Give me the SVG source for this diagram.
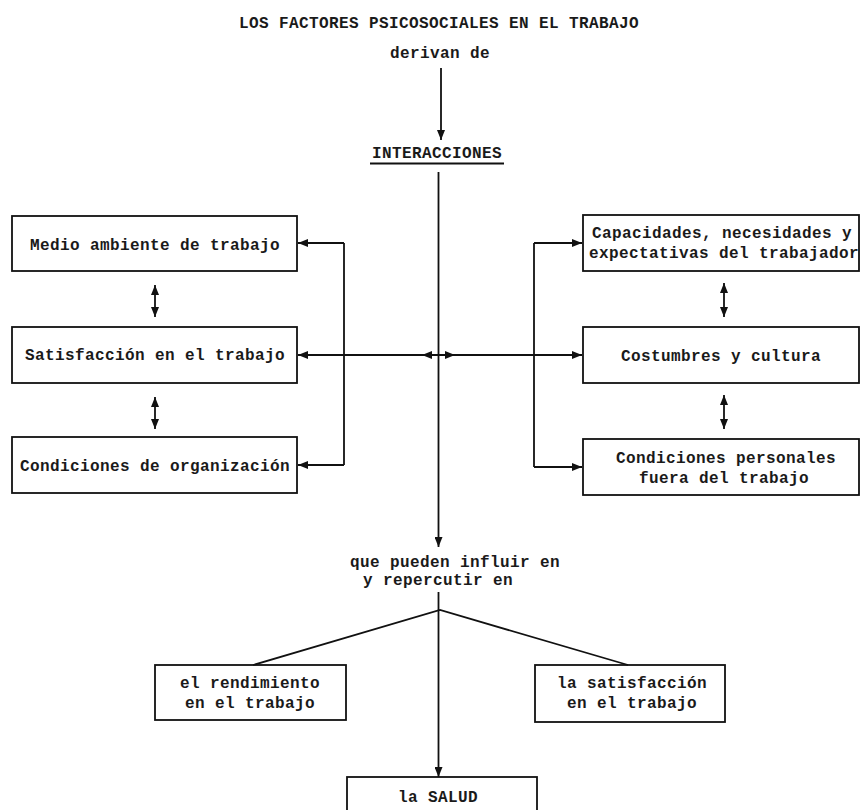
<svg xmlns="http://www.w3.org/2000/svg" width="862" height="810" viewBox="0 0 862 810">
<style>
  text { font-family: "Liberation Mono", "Courier New", monospace; font-size: 16px; font-weight: bold; fill: #1a1a1a; letter-spacing: 0.4px; }
  .c { text-anchor: middle; }
  .box { fill: #fff; stroke: #111; stroke-width: 1.8; }
  .ln { fill: none; stroke: #111; stroke-width: 1.8; }
</style>
<defs>
  <marker id="ah" viewBox="0 0 10 8" refX="10" refY="4" markerWidth="11" markerHeight="8" markerUnits="userSpaceOnUse" orient="auto-start-reverse">
    <path d="M0,0 L10,4 L0,8 Z" fill="#111"/>
  </marker>
</defs>

<g id="title">
  <text class="c" x="439" y="28">LOS FACTORES PSICOSOCIALES EN EL TRABAJO</text>
  <text class="c" x="440" y="58">derivan de</text>
</g>
<g id="interacciones">
  <text class="c" x="437" y="158">INTERACCIONES</text>
  <line x1="370" y1="163.5" x2="504" y2="163.5" stroke="#111" stroke-width="1.8"/>
</g>

<g id="medio">
  <rect class="box" x="12" y="216" width="285" height="55"/>
  <text class="c" x="155" y="250">Medio ambiente de trabajo</text>
</g>
<g id="satisfaccion">
  <rect class="box" x="12" y="327" width="285" height="56"/>
  <text class="c" x="155" y="360">Satisfacción en el trabajo</text>
</g>
<g id="organizacion">
  <rect class="box" x="12" y="437" width="285" height="56"/>
  <text class="c" x="155" y="471">Condiciones de organización</text>
</g>

<g id="capacidades">
  <rect class="box" x="583" y="215" width="276" height="56"/>
  <text x="592" y="238">Capacidades, necesidades y</text>
  <text x="589" y="258">expectativas del trabajador</text>
</g>
<g id="costumbres">
  <rect class="box" x="583" y="327" width="276" height="56"/>
  <text class="c" x="721" y="361">Costumbres y cultura</text>
</g>
<g id="personales">
  <rect class="box" x="583" y="439" width="276" height="56"/>
  <text class="c" x="726" y="463">Condiciones personales</text>
  <text class="c" x="724" y="483">fuera del trabajo</text>
</g>

<g id="influir">
  <text x="350" y="567">que pueden influir en</text>
  <text x="363" y="585">y repercutir en</text>
</g>

<g id="rendimiento">
  <rect class="box" x="155" y="665" width="191" height="55"/>
  <text class="c" x="250" y="688">el rendimiento</text>
  <text class="c" x="250" y="708">en el trabajo</text>
</g>
<g id="satisfaccion2">
  <rect class="box" x="535" y="665" width="190" height="57"/>
  <text class="c" x="632" y="688">la satisfacción</text>
  <text class="c" x="632" y="708">en el trabajo</text>
</g>
<g id="salud">
  <rect class="box" x="347" y="777" width="190" height="45"/>
  <text class="c" x="438" y="802">la SALUD</text>
</g>

<g id="connectors">
  <path class="ln" d="M441,68 V140" marker-end="url(#ah)"/>
  <path class="ln" d="M438.5,172 V547" marker-end="url(#ah)"/>
  <path class="ln" d="M438.5,355 H298" marker-end="url(#ah)"/>
  <path class="ln" d="M438.5,355 H582" marker-end="url(#ah)"/>
  <path class="ln" d="M438.5,355 H422" marker-end="url(#ah)"/>
  <path class="ln" d="M438.5,355 H455" marker-end="url(#ah)"/>
  <path class="ln" d="M344,243 V465"/>
  <path class="ln" d="M344,243 H298" marker-end="url(#ah)"/>
  <path class="ln" d="M344,465 H298" marker-end="url(#ah)"/>
  <path class="ln" d="M534,243 V467"/>
  <path class="ln" d="M534,243 H582" marker-end="url(#ah)"/>
  <path class="ln" d="M534,467 H582" marker-end="url(#ah)"/>
  <path class="ln" d="M155,285 V317" marker-start="url(#ah)" marker-end="url(#ah)"/>
  <path class="ln" d="M155,397 V429" marker-start="url(#ah)" marker-end="url(#ah)"/>
  <path class="ln" d="M724,283 V317" marker-start="url(#ah)" marker-end="url(#ah)"/>
  <path class="ln" d="M724,395 V429" marker-start="url(#ah)" marker-end="url(#ah)"/>
  <path class="ln" d="M438.5,592 V777" marker-end="url(#ah)"/>
  <path class="ln" d="M253,665 L440,610 L628,665"/>
</g>
</svg>
